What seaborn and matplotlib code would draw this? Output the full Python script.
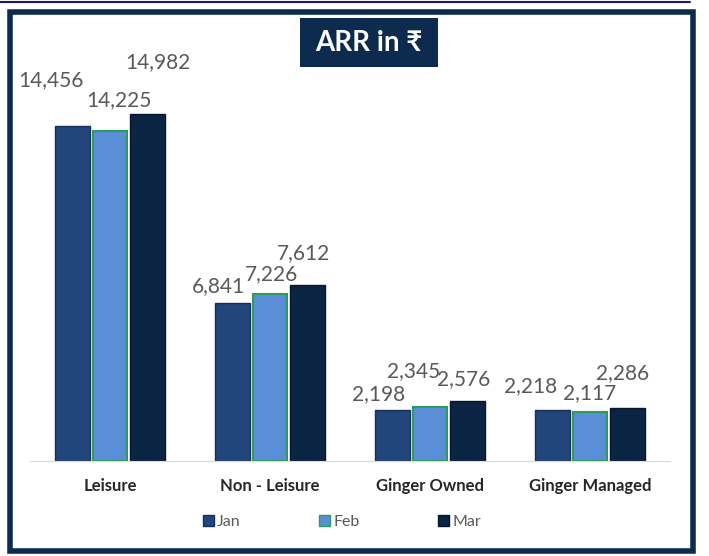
import pandas as pd
import matplotlib.pyplot as plt
import matplotlib.patches as mpatches
from matplotlib.lines import Line2D
import seaborn as sns

# data
categories = ['Leisure', 'Non - Leisure', 'Ginger Owned', 'Ginger Managed']
months = ['Jan', 'Feb', 'Mar']
jan = [14456, 6841, 2198, 2218]
feb = [14225, 7226, 2345, 2117]
mar = [14982, 7612, 2576, 2286]

# label nudges (pixels) to mimic the Excel label placement
label_offsets = {
    'Jan': [(-22, 46), (-14, 16), (-14, 16), (-22, 24)],
    'Feb': [(9, 31), (1, 20), (-16, 36), (0, 19)],
    'Mar': [(11, 52), (-4, 32), (-4, 22), (-5, 35)],
}

fills = {'Jan': '#22457c', 'Feb': '#5a8fd8', 'Mar': '#0b2443'}
edges = {'Jan': '#15305a', 'Feb': '#2e9a5c', 'Mar': '#06172c'}

df = pd.DataFrame({
    'category': categories * 3,
    'month': ['Jan'] * 4 + ['Feb'] * 4 + ['Mar'] * 4,
    'arr': jan + feb + mar,
})

sns.set_style('white')
plt.rcParams['font.family'] = ['Lato', 'DejaVu Sans']

fig = plt.figure(figsize=(7.09, 5.56), dpi=100)
ax = fig.add_axes([30 / 709, 95 / 556, 640 / 709, 417 / 556])

sns.barplot(data=df, x='category', y='arr', hue='month', order=categories,
            hue_order=months, palette=fills, width=0.7, gap=0.08,
            saturation=1, legend=False, ax=ax)

for cont, m in zip(ax.containers, months):
    for bar, (dx, dy) in zip(cont, label_offsets[m]):
        bar.set_edgecolor(edges[m])
        bar.set_linewidth(1.5 if m == 'Feb' else 1.0)
        ax.annotate(f'{int(bar.get_height()):,}',
                    xy=(bar.get_x() + bar.get_width() / 2, bar.get_height()),
                    xytext=(dx, dy), textcoords='offset pixels',
                    ha='center', va='center', fontsize=15, color='#595959')

ax.set_ylim(0, 18000)
ax.set_xlabel('')
ax.set_ylabel('')
ax.set_yticks([])
for s in ['top', 'left', 'right']:
    ax.spines[s].set_visible(False)
ax.spines['bottom'].set_color('#d9d9d9')
ax.tick_params(axis='x', length=0, pad=12)
for t in ax.get_xticklabels():
    t.set_fontweight('bold')
    t.set_fontsize(12)
    t.set_color('#262626')

# legend at the bottom
handles = [mpatches.Patch(facecolor=fills[m], edgecolor=edges[m]) for m in months]
fig.legend(handles, months, loc='center', bbox_to_anchor=(0.482, 0.061),
           ncol=3, frameon=False, handlelength=0.7, handleheight=0.7,
           handletextpad=0.2, columnspacing=4.9, fontsize=11.5,
           labelcolor='#595959')

# title box
fig.patches.append(mpatches.Rectangle((300 / 709, 1 - 67 / 556), 138 / 709, 49 / 556,
                                      transform=fig.transFigure, facecolor='#0d2b4e',
                                      edgecolor='none', zorder=5))
fig.text(369 / 709, 1 - 43 / 556, 'ARR in ₹', ha='center', va='center',
         color='white', fontsize=20, fontweight='bold', zorder=6)

# outer frame and the thin line above it
fig.patches.append(mpatches.Rectangle((10 / 709, 1 - 551 / 556), 683 / 709, 539 / 556,
                                      transform=fig.transFigure, fill=False,
                                      edgecolor='#0d2b4e', linewidth=4))
fig.lines.append(Line2D([0, 690 / 709], [1 - 1.5 / 556] * 2, transform=fig.transFigure,
                        color='#1c1a6e', linewidth=1.5))

fig.savefig('out.png', dpi=100)
plt.close()
